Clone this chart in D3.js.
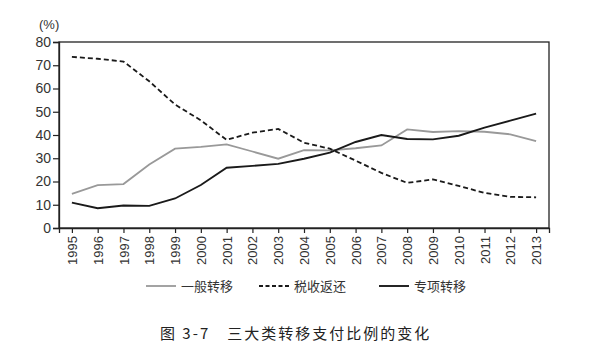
<!DOCTYPE html>
<html><head><meta charset="utf-8">
<script src="https://cdn.jsdelivr.net/npm/d3@7"></script>
<style>
html,body{margin:0;padding:0;background:#fff;}
svg{display:block;}
</style></head>
<body>
<svg id="chart" width="595" height="356"></svg>
<script>
const years = ["1995","1996","1997","1998","1999","2000","2001","2002","2003","2004","2005","2006","2007","2008","2009","2010","2011","2012","2013"];
const general = [14.7,18.4,18.9,27.3,34.1,34.9,36.0,32.9,29.8,33.5,33.4,34.3,35.5,42.4,41.3,41.7,41.4,40.3,37.4];
const taxReturn = [73.6,72.8,71.6,63.1,53.1,46.3,37.9,41.0,42.6,36.7,34.1,29.0,23.7,19.4,20.9,18.1,15.1,13.4,13.2];
const special = [10.9,8.5,9.7,9.5,12.7,18.5,25.9,26.7,27.6,29.8,32.4,37.0,40.0,38.3,38.1,39.7,43.2,46.2,49.2];
const yTicks = [0,10,20,30,40,50,60,70,80];
const seriesNames = ["一般转移","税收返还","专项转移"];
const unitLabel = "(%)";
const caption = "图 3-7　三大类转移支付比例的变化";

(function(){
const svg = d3.select("#chart");
const mL = 59, mR = 549, mT = 42, mB = 228;
const x = d3.scalePoint().domain(years).range([mL, mR]).padding(0.5);
const y = d3.scaleLinear().domain([0, 80]).range([mB, mT]);
const numFont = "'Liberation Sans', Arial, sans-serif";
const cjkFont = "'Noto Sans CJK SC', sans-serif";

// frame
svg.append("rect").attr("x", mL).attr("y", mT).attr("width", mR-mL).attr("height", mB-mT)
  .attr("fill","none").attr("stroke","#222").attr("stroke-width",1.3);

// y axis
const yAxis = svg.append("g").attr("transform", `translate(${mL},0)`)
  .call(d3.axisLeft(y).tickValues(yTicks).tickSize(6).tickPadding(2));
yAxis.select(".domain").attr("stroke","#222").attr("stroke-width",1.3);
yAxis.selectAll(".tick line").attr("stroke","#222").attr("stroke-width",1.2);
yAxis.selectAll(".tick text").attr("fill","#333").style("font-family",numFont).style("font-size","14px");

// x axis
const xAxis = svg.append("g").attr("transform", `translate(0,${mB})`)
  .call(d3.axisBottom(x).tickSize(5).tickPadding(3));
xAxis.select(".domain").attr("stroke","#222").attr("stroke-width",1.3);
xAxis.selectAll(".tick line").attr("stroke","#222").attr("stroke-width",1.2);
xAxis.selectAll(".tick text").attr("fill","#333").style("font-family",numFont).style("font-size","13px")
  .attr("transform","rotate(-90)").attr("text-anchor","end").attr("dx","-8").attr("dy","0.35em").attr("x",0).attr("y",0);

// unit
svg.append("text").attr("x", 39).attr("y", 29).text(unitLabel)
  .attr("fill","#333").style("font-family",numFont).style("font-size","13px");

const line = d3.line().x((d,i)=>x(years[i])).y(d=>y(d));
const styles = [
  {data: general, color:"#999", dash:null, w:1.8},
  {data: taxReturn, color:"#1a1a1a", dash:"5,3", w:1.8},
  {data: special, color:"#1a1a1a", dash:null, w:1.9}
];
styles.forEach(s=>{
  svg.append("path").datum(s.data).attr("d", line).attr("fill","none")
    .attr("stroke", s.color).attr("stroke-width", s.w).attr("stroke-dasharray", s.dash);
});

// legend
const legendX = [146, 259, 379];
const ly = 286;
styles.forEach((s,i)=>{
  svg.append("line").attr("x1", legendX[i]).attr("x2", legendX[i]+30).attr("y1", ly).attr("y2", ly)
    .attr("stroke", s.color).attr("stroke-width", s.w).attr("stroke-dasharray", s.dash ? "4,2.5" : null);
  svg.append("text").attr("x", legendX[i]+35).attr("y", ly).attr("dy","0.36em").text(seriesNames[i])
    .attr("fill","#333").style("font-family",cjkFont).style("font-size","13px");
});

// caption
svg.append("text").attr("x", 160).attr("y", 334).attr("dy","0.36em").text(caption)
  .attr("fill","#222").style("font-family",cjkFont).style("font-size","15px").style("letter-spacing","2px");
})();
</script>
</body></html>
